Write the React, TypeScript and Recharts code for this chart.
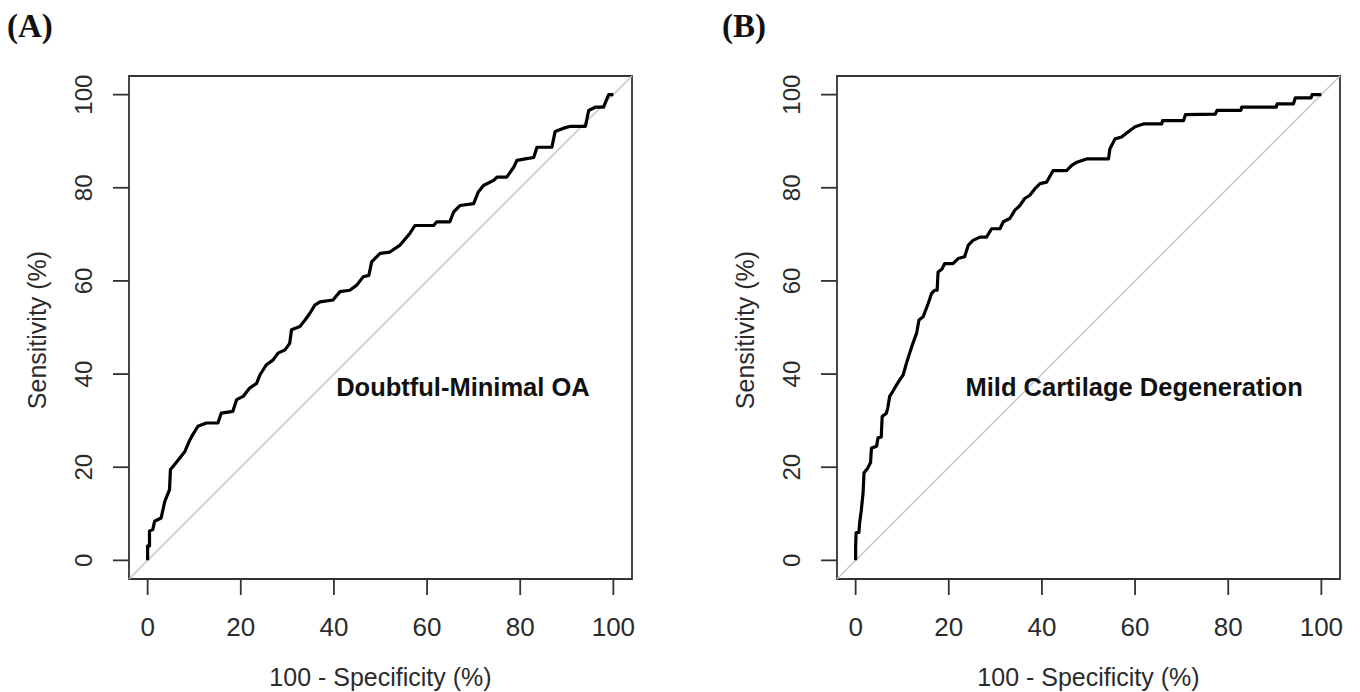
import React from 'react';
import { LineChart, Line, XAxis, YAxis, ReferenceLine, ReferenceArea, ReferenceDot } from 'recharts';

// Panel A: Doubtful-Minimal OA  (x = 100 - specificity %, y = sensitivity %)
const fprA = [0, 0, 0.4, 0.4, 1.1, 1.5, 2.9, 3.7, 4.7, 4.9, 5.8, 6.9, 8, 8.9, 9.7, 10.8, 12.6, 15.1, 15.8, 18.3, 19.1, 20.5, 21.9, 23.4, 24.1, 25.5, 26.9, 28, 29.5, 30.5, 30.9, 32.7, 33.8, 34.8, 35.9, 37, 39.8, 41.3, 43.4, 44.9, 46.3, 47.5, 48.1, 49.9, 52, 54.2, 56.3, 57.4, 61.4, 62.1, 64.9, 65.7, 67.1, 70, 71, 72.1, 74.3, 75, 77.1, 78.6, 79.3, 81.1, 82.9, 83.6, 86.8, 87.5, 89.3, 90.8, 94, 94.7, 96.1, 97.9, 98.6, 99, 100];
const tprA = [0, 3.1, 3.1, 6.3, 6.6, 8.4, 9.1, 12.7, 15.2, 19.5, 20.6, 22, 23.4, 25.5, 27, 28.8, 29.5, 29.5, 31.6, 32, 34.5, 35.2, 37, 38, 39.8, 42, 43, 44.5, 45.2, 46.6, 49.5, 50.2, 51.6, 53, 54.8, 55.5, 55.9, 57.7, 58, 59.1, 60.9, 61.2, 64.1, 65.9, 66.2, 67.7, 70.2, 71.9, 71.9, 72.7, 72.7, 74.8, 76.2, 76.6, 79.1, 80.5, 81.6, 82.3, 82.3, 84.4, 85.9, 86.2, 86.5, 88.7, 88.7, 92.1, 92.8, 93.2, 93.2, 96.6, 97.3, 97.3, 99.1, 100, 100];

// Panel B: Mild Cartilage Degeneration
const fprB = [0, 0, 0.1, 0.7, 0.9, 1.2, 1.6, 1.8, 2.6, 3.2, 3.4, 4.5, 4.8, 5.5, 5.7, 6.6, 6.9, 7.3, 8, 8.8, 9.5, 10.2, 10.9, 11.6, 12.3, 13.1, 13.6, 14.5, 15.6, 16.3, 17, 17.5, 17.7, 18.5, 19.1, 20.9, 22, 23.4, 24.2, 25.2, 26.7, 28.1, 29.2, 31, 31.7, 33.1, 34.2, 35.3, 36.3, 37.4, 38.5, 39.6, 41, 42.4, 45.3, 46.4, 47.5, 49.6, 54.3, 54.6, 55.7, 57.1, 58.9, 60, 61.8, 65.7, 65.9, 70.4, 70.8, 77.2, 77.6, 82.7, 82.9, 90.3, 90.5, 94, 94.4, 97.8, 98, 100];
const tprB = [0, 3, 5.9, 6, 8.4, 10.6, 14.5, 18.8, 19.8, 21, 24.1, 24.5, 26.3, 26.5, 30.9, 31.6, 32.7, 35.2, 36.3, 37.7, 38.8, 39.8, 42.3, 44.5, 46.6, 48.8, 51.6, 52.3, 55.2, 57.3, 58, 58, 61.9, 62.5, 63.7, 63.7, 64.8, 65.2, 67.7, 68.7, 69.4, 69.4, 71.2, 71.2, 72.7, 73.4, 75.2, 76.2, 77.7, 78.4, 79.8, 80.9, 81.2, 83.7, 83.7, 84.8, 85.5, 86.2, 86.2, 88.4, 90.5, 90.9, 92.3, 93.1, 93.7, 93.7, 94.4, 94.4, 95.7, 95.8, 96.6, 96.6, 97.3, 97.3, 98, 98, 99.3, 99.3, 100, 100];

const axisTicks = [0, 20, 40, 60, 80, 100];
const xTitle = '100 - Specificity (%)';
const yTitle = 'Sensitivity (%)';
const panelLabels = ['(A)', '(B)'];
const annotations = ['Doubtful-Minimal OA', 'Mild Cartilage Degeneration'];
const annotationPos = [
  { x: 67.7, y: 37.2 },
  { x: 59.8, y: 37.2 },
];

const dataA = fprA.map((x, i) => ({ x, y: tprA[i] }));
const dataB = fprB.map((x, i) => ({ x, y: tprB[i] }));

const PLOT_TOP = 76;
const PLOT_SIZE = 503;
const Y_AXIS_W = 129;
const PLOT_BOTTOM = PLOT_TOP + PLOT_SIZE;
const SANS = '"Liberation Sans", Arial, sans-serif';
const TEXT_COLOR = '#2b2b2b';

const XTick = (props: any) => {
  const { x, payload } = props;
  return (
    <text x={x} y={PLOT_BOTTOM + 57} textAnchor="middle" fontFamily={SANS} fontSize={26} fill={TEXT_COLOR}>
      {payload.value}
    </text>
  );
};

const YTick = (props: any) => {
  const { y, payload } = props;
  const bx = Y_AXIS_W - 37;
  return (
    <text x={bx} y={y} transform={`rotate(-90, ${bx}, ${y})`} textAnchor="middle" fontFamily={SANS} fontSize={24} fill={TEXT_COLOR}>
      {payload.value}
    </text>
  );
};

const makeAnnot = (text: string) => (props: any) => {
  const vb = props.viewBox || {};
  const cx = (vb.x || 0) + (vb.width || 0) / 2;
  const cy = (vb.y || 0) + (vb.height || 0) / 2;
  return (
    <text x={cx} y={cy + 9} textAnchor="middle" fontFamily={SANS} fontSize={25.5} fontWeight={700} fill="#111">
      {text}
    </text>
  );
};

function RocPanel({ data, width, rightMargin, annot, pos }: any) {
  return (
    <LineChart
      width={width}
      height={692}
      data={data}
      margin={{ top: PLOT_TOP, right: rightMargin, bottom: 0, left: 0 }}
    >
      <XAxis
        type="number"
        dataKey="x"
        domain={[-4, 104]}
        ticks={axisTicks}
        allowDataOverflow
        axisLine={false}
        tickLine={{ stroke: '#333', strokeWidth: 1.8 }}
        tickSize={16}
        height={692 - PLOT_BOTTOM}
        tick={<XTick />}
        interval={0}
      />
      <YAxis
        type="number"
        dataKey="y"
        domain={[-4, 104]}
        ticks={axisTicks}
        allowDataOverflow
        axisLine={false}
        tickLine={{ stroke: '#333', strokeWidth: 1.8 }}
        tickSize={16}
        width={Y_AXIS_W}
        tick={<YTick />}
        interval={0}
      />
      <ReferenceLine
        segment={[{ x: -4, y: -4 }, { x: 104, y: 104 }]}
        stroke="#c4c4c4"
        strokeWidth={1.4}
      />
      <ReferenceArea x1={-4} x2={104} y1={-4} y2={104} fill="none" fillOpacity={0} stroke="#333" strokeWidth={1.8} />
      <Line
        type="linear"
        dataKey="y"
        stroke="#000"
        strokeWidth={3.2}
        dot={false}
        isAnimationActive={false}
        strokeLinejoin="round"
      />
      <ReferenceDot x={pos.x} y={pos.y} r={1} fill="none" stroke="none" label={{ content: makeAnnot(annot) } as any} />
    </LineChart>
  );
}

export default function App() {
  const yTitleX = [46, 46 + 708];
  const xTitleX = [380.5, 380.5 + 708];
  const labelX = [7, 722];
  return (
    <div style={{ position: 'absolute', left: 0, top: 0, width: 1360, height: 692, background: '#fff', overflow: 'hidden' }}>
      <div style={{ position: 'absolute', left: 0, top: 0 }}>
        <RocPanel data={dataA} width={680} rightMargin={48} annot={annotations[0]} pos={annotationPos[0]} />
      </div>
      <div style={{ position: 'absolute', left: 708, top: 0 }}>
        <RocPanel data={dataB} width={652} rightMargin={20} annot={annotations[1]} pos={annotationPos[1]} />
      </div>
      <svg width={1360} height={692} style={{ position: 'absolute', left: 0, top: 0, pointerEvents: 'none' }}>
        {[0, 1].map((i) => (
          <g key={i}>
            <text x={labelX[i]} y={37} fontFamily='"Liberation Serif", "Times New Roman", serif' fontWeight={700} fontSize={33} fill="#111">
              {panelLabels[i]}
            </text>
            <text x={xTitleX[i]} y={686} textAnchor="middle" fontFamily={SANS} fontSize={25} fill={TEXT_COLOR}>
              {xTitle}
            </text>
            <text
              x={yTitleX[i]}
              y={330}
              transform={`rotate(-90, ${yTitleX[i]}, 330)`}
              textAnchor="middle"
              fontFamily={SANS}
              fontSize={25}
              fill={TEXT_COLOR}
            >
              {yTitle}
            </text>
          </g>
        ))}
      </svg>
    </div>
  );
}
